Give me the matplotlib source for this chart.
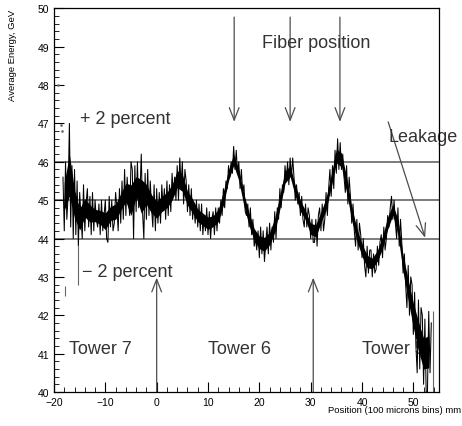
import numpy as np
import matplotlib
matplotlib.use("Agg")
import matplotlib.pyplot as plt
from matplotlib.ticker import MultipleLocator

plt.rcParams['font.family'] = ['Liberation Sans', 'DejaVu Sans']

# average energy per 100 micron bin, 4 readings per mm
pos_mm = list(range(-18, 54))
energy = [
    [45.6, 44.2, 46.0, 44.5], [45.1, 47.0, 44.3, 45.9], [44.0, 45.8, 44.1, 45.5],
    [43.8, 45.2, 44.6, 44.0], [45.4, 44.2, 44.9, 45.3], [44.3, 45.1, 44.1, 45.2],
    [44.2, 45.0, 44.5, 44.3], [44.9, 44.1, 45.0, 44.2], [44.6, 45.0, 44.0, 43.9],
    [45.1, 44.3, 45.0, 44.2], [44.4, 45.2, 44.8, 44.2], [45.3, 44.4, 45.5, 44.5],
    [45.8, 44.6, 45.6, 45.0], [44.6, 46.0, 45.8, 44.0], [45.9, 44.7, 46.0, 44.8],
    [45.2, 46.2, 44.7, 44.0], [45.7, 44.5, 45.8, 44.6], [45.5, 44.8, 44.3, 45.4],
    [44.2, 45.3, 44.4, 45.2], [44.4, 45.4, 44.8, 45.3], [44.5, 45.5, 44.6, 45.4],
    [44.7, 45.7, 45.1, 45.6], [45.0, 45.9, 45.0, 46.1], [45.4, 46.0, 44.9, 45.8],
    [45.5, 44.7, 45.4, 44.6], [45.3, 44.5, 44.9, 44.4], [45.0, 44.3, 44.9, 44.2],
    [44.9, 44.1, 44.6, 44.2], [44.8, 44.1, 44.7, 44.0], [44.5, 44.7, 44.1, 44.8],
    [44.2, 44.8, 44.4, 45.0], [44.6, 45.3, 44.8, 45.5], [45.3, 45.9, 45.6, 46.0],
    [45.7, 46.4, 45.8, 46.3], [45.7, 46.0, 45.3, 45.8], [45.2, 45.4, 44.7, 44.6],
    [44.9, 44.3, 44.8, 44.1], [44.5, 43.8, 44.0, 43.7], [44.2, 43.5, 44.3, 43.6],
    [44.2, 43.4, 43.9, 44.3], [43.6, 44.4, 43.7, 44.3], [43.9, 44.7, 44.0, 44.8],
    [44.5, 45.3, 44.8, 45.4], [45.2, 45.9, 45.5, 46.0], [45.4, 46.1, 45.6, 46.1],
    [45.6, 45.0, 45.4, 44.9], [45.2, 44.6, 45.1, 44.5], [44.3, 44.9, 44.3, 44.8],
    [44.6, 44.0, 44.5, 43.9], [43.9, 44.5, 43.8, 44.6], [44.8, 44.2, 44.9, 44.2],
    [44.5, 45.2, 44.6, 45.3], [45.8, 45.1, 45.9, 45.3], [46.3, 45.7, 46.6, 45.8],
    [46.5, 45.8, 46.2, 45.6], [45.2, 45.9, 44.9, 45.6], [45.1, 44.4, 44.9, 44.2],
    [43.8, 44.5, 43.7, 44.4], [44.1, 43.5, 44.0, 43.3], [43.0, 43.8, 43.1, 43.7],
    [43.7, 43.0, 43.6, 43.1], [43.2, 43.8, 43.3, 43.9], [44.1, 43.5, 44.3, 43.7],
    [44.0, 44.6, 44.3, 44.8], [45.1, 44.5, 45.0, 44.4], [44.0, 44.8, 43.8, 44.5],
    [43.9, 43.1, 43.6, 42.8], [42.2, 43.3, 42.0, 43.0], [42.8, 41.5, 42.6, 41.2],
    [40.5, 42.4, 40.6, 42.2], [42.0, 40.2, 41.9, 40.0], [40.0, 42.1, 40.5, 41.8],
]

# isolated outlier bins
spike_x = [-17.85, -15.3, 53.8]
spike_lo = [42.5, 42.8, 40.0]
spike_hi = [42.75, 43.8, 42.1]
dot_x = [-19.2, -18.6, -18.5]
dot_y = [48.0, 46.95, 46.8]

band_levels = [44, 45, 46]
fiber_pos = [15.1, 26.0, 35.7]
boundary_pos = [0, 30.5]

rows = np.array(energy)
x = np.array([m - 0.25 + 0.25 * k for m in pos_mm for k in range(4)])
y = rows.ravel()
row_mid = (rows.max(axis=1) + rows.min(axis=1)) / 2
row_half = (rows.max(axis=1) - rows.min(axis=1)) / 2

fig = plt.figure(figsize=(4.62, 4.27), dpi=100)
ax = fig.add_axes([54/462, 34/427, 385/462, 383.7/427])
ax.set_xlim(-20, 55)
ax.set_ylim(40, 50)

for lev in band_levels:
    ax.axhline(lev, color='0.35', lw=1.1, zorder=1)

# dense core of the histogram plus the bin-to-bin scatter
ax.fill_between(pos_mm, row_mid - 0.4 * row_half, row_mid + 0.4 * row_half,
                color='black', lw=0, zorder=3)
ax.plot(x, y, color='black', lw=0.75, zorder=3)
ax.vlines(spike_x, spike_lo, spike_hi, color='0.4', lw=0.8, zorder=3)
ax.plot(dot_x, dot_y, ls='none', marker='s', ms=0.8, color='0.4')

arrow = dict(arrowstyle='->,head_length=0.9,head_width=0.35', color='0.3',
             lw=0.9, shrinkA=0, shrinkB=0)
for fx in fiber_pos:
    ax.annotate('', xy=(fx, 47.04), xytext=(fx, 49.77), arrowprops=arrow, zorder=2)
for bx in boundary_pos:
    ax.annotate('', xy=(bx, 42.98), xytext=(bx, 40.0), arrowprops=arrow, zorder=2)
ax.annotate('', xy=(52.3, 44.02), xytext=(45.1, 47.04), arrowprops=arrow, zorder=2)

tkw = dict(fontsize=13, color='0.2', va='center', zorder=2)
ax.text(20.6, 49.12, 'Fiber position', **tkw)
ax.text(-14.9, 47.12, '+ 2 percent', **tkw)
ax.text(-14.5, 43.15, '\u2212 2 percent', **tkw)
ax.text(-17.1, 41.13, 'Tower 7', **tkw)
ax.text(10.0, 41.13, 'Tower 6', **tkw)
ax.text(40.0, 41.13, 'Tower 5', **tkw)
ax.text(45.1, 46.65, 'Leakage', **tkw)

ax.xaxis.set_major_locator(MultipleLocator(10))
ax.xaxis.set_minor_locator(MultipleLocator(2))
ax.yaxis.set_major_locator(MultipleLocator(1))
ax.yaxis.set_minor_locator(MultipleLocator(0.2))
ax.tick_params(which='both', direction='in', top=False, right=False, labelsize=7.5)
ax.tick_params(which='major', length=7)
ax.tick_params(which='minor', length=3.5)
for s in ax.spines.values():
    s.set_linewidth(0.9)

ax.set_ylabel('Average Energy, GeV', fontsize=6.8, loc='top')
ax.yaxis.set_label_coords(-0.096, 1.0)
ax.set_xlabel('Position (100 microns bins) mm', fontsize=6.8, loc='right')
ax.xaxis.set_label_coords(1.057, -0.035)

fig.savefig('out.png', dpi=100)
